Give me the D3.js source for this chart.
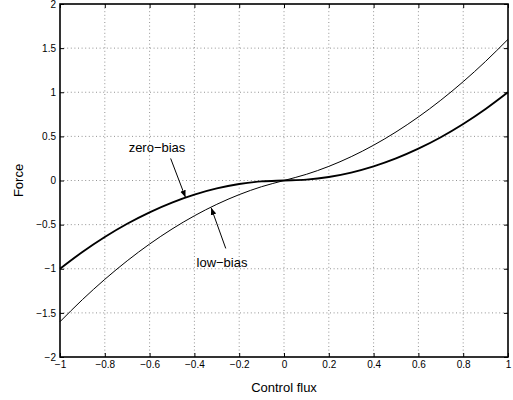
<!DOCTYPE html>
<html>
<head>
<meta charset="utf-8">
<script src="https://cdn.jsdelivr.net/npm/d3@7"></script>
<style>
body { margin:0; background:#fff; }
svg text { font-family: "Liberation Sans", Arial, sans-serif; fill:#000; }
.grid line { stroke:#777; stroke-width:0.8; stroke-dasharray:1,2.6; }
</style>
</head>
<body>
<svg id="chart" width="513" height="400"></svg>
<script>
// control flux samples
var flux = [-1, -0.9, -0.8, -0.7, -0.6, -0.5, -0.4, -0.3, -0.2, -0.1, 0,
            0.1, 0.2, 0.3, 0.4, 0.5, 0.6, 0.7, 0.8, 0.9, 1];
// force, zero-bias (thick curve)
var zeroBias = [-1, -0.81, -0.64, -0.49, -0.36, -0.25, -0.16, -0.09, -0.04, -0.01, 0,
                0.01, 0.04, 0.09, 0.16, 0.25, 0.36, 0.49, 0.64, 0.81, 1];
// force, low-bias (thin curve)
var lowBias = [-1.6, -1.35, -1.12, -0.91, -0.72, -0.55, -0.4, -0.27, -0.16, -0.07, 0,
               0.07, 0.16, 0.27, 0.4, 0.55, 0.72, 0.91, 1.12, 1.35, 1.6];
var xTicks = [-1, -0.8, -0.6, -0.4, -0.2, 0, 0.2, 0.4, 0.6, 0.8, 1];
var yTicks = [-2, -1.5, -1, -0.5, 0, 0.5, 1, 1.5, 2];

var svg = d3.select('#chart');
var mLeft = 60, mRight = 508, mTop = 4, mBottom = 357;

var x = d3.scaleLinear().domain([-1, 1]).range([mLeft, mRight]);
var y = d3.scaleLinear().domain([-2, 2]).range([mBottom, mTop]);

var fmt = function(d){ return String(d).replace('-', '\u2212'); };

// grid
var grid = svg.append('g').attr('class', 'grid');
grid.selectAll('.gx').data(xTicks.slice(1, -1)).enter().append('line')
  .attr('x1', function(d){ return x(d); }).attr('x2', function(d){ return x(d); })
  .attr('y1', mTop).attr('y2', mBottom);
grid.selectAll('.gy').data(yTicks.slice(1, -1)).enter().append('line')
  .attr('y1', function(d){ return y(d); }).attr('y2', function(d){ return y(d); })
  .attr('x1', mLeft).attr('x2', mRight);

// axes (ticks pointing inward, mirrored on the opposite side)
var tick = 4;
var xb = svg.append('g').attr('transform', 'translate(0,' + mBottom + ')')
  .call(d3.axisBottom(x).tickValues(xTicks).tickSizeInner(-tick).tickSizeOuter(0).tickPadding(6).tickFormat(fmt));
var xt = svg.append('g').attr('transform', 'translate(0,' + mTop + ')')
  .call(d3.axisTop(x).tickValues(xTicks).tickSizeInner(-tick).tickSizeOuter(0).tickFormat(''));
var yl = svg.append('g').attr('transform', 'translate(' + mLeft + ',0)')
  .call(d3.axisLeft(y).tickValues(yTicks).tickSizeInner(-tick).tickSizeOuter(0).tickPadding(4).tickFormat(fmt));
var yr = svg.append('g').attr('transform', 'translate(' + mRight + ',0)')
  .call(d3.axisRight(y).tickValues(yTicks).tickSizeInner(-tick).tickSizeOuter(0).tickFormat(''));
[xb, xt, yl, yr].forEach(function(g){
  g.select('.domain').remove();
  g.selectAll('.tick line').attr('stroke', '#000').attr('stroke-width', 1);
  g.selectAll('.tick text').style('font-size', '10px');
});
xb.selectAll('.tick text').attr('dy', '0.5em');

// box
svg.append('rect').attr('x', mLeft).attr('y', mTop)
  .attr('width', mRight - mLeft).attr('height', mBottom - mTop)
  .attr('fill', 'none').attr('stroke', '#000').attr('stroke-width', 1.6);

// curves
var line = function(vals){
  return d3.line()
    .x(function(d, i){ return x(flux[i]); })
    .y(function(d){ return y(d); })
    .curve(d3.curveMonotoneX)(vals);
};
svg.append('path').attr('d', line(lowBias)).attr('fill', 'none')
  .attr('stroke', '#000').attr('stroke-width', 1);
svg.append('path').attr('d', line(zeroBias)).attr('fill', 'none')
  .attr('stroke', '#000').attr('stroke-width', 1.9);

// annotations
var defs = svg.append('defs');
defs.append('marker').attr('id', 'arr').attr('viewBox', '0 0 10 10')
  .attr('refX', 10).attr('refY', 5).attr('markerWidth', 7).attr('markerHeight', 7)
  .attr('orient', 'auto').attr('markerUnits', 'userSpaceOnUse')
  .append('path').attr('d', 'M0,1 L10,5 L0,9 Z').attr('fill', '#000');

svg.append('text').attr('x', 157).attr('y', 152).attr('text-anchor', 'middle')
  .style('font-size', '13px').text('zero\u2212bias');
svg.append('line').attr('x1', x(-0.506)).attr('y1', y(0.25))
  .attr('x2', x(-0.44)).attr('y2', y(-0.19))
  .attr('stroke', '#000').attr('stroke-width', 1).attr('marker-end', 'url(#arr)');

svg.append('text').attr('x', 222).attr('y', 267).attr('text-anchor', 'middle')
  .style('font-size', '13px').text('low\u2212bias');
svg.append('line').attr('x1', x(-0.26)).attr('y1', y(-0.77))
  .attr('x2', x(-0.325)).attr('y2', y(-0.31))
  .attr('stroke', '#000').attr('stroke-width', 1).attr('marker-end', 'url(#arr)');

// axis labels
svg.append('text').attr('x', x(0)).attr('y', 392).attr('text-anchor', 'middle')
  .style('font-size', '13px').text('Control flux');
svg.append('text').attr('transform', 'translate(23,' + y(0) + ') rotate(-90)')
  .attr('text-anchor', 'middle').style('font-size', '13px').text('Force');
</script>
</body>
</html>
